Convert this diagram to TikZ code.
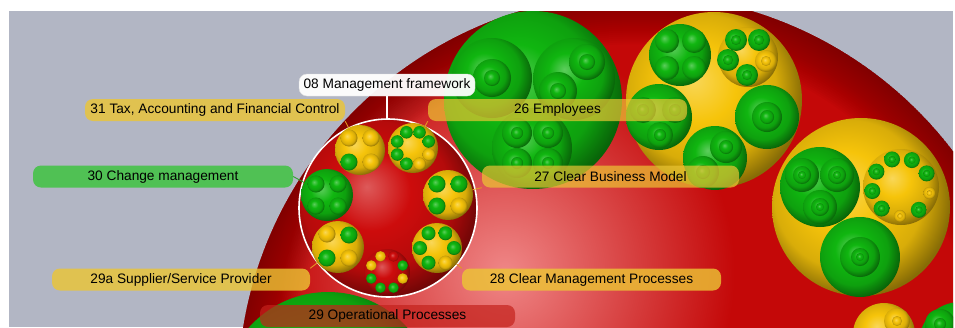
\documentclass[tikz,border=0pt]{standalone}
\usepackage{fontspec}
\setmainfont{Liberation Sans}
\usetikzlibrary{fadings}

\definecolor{bgGray}{RGB}{178,182,196}
\definecolor{ballGreen}{RGB}{16,182,16}
\definecolor{ballYellow}{RGB}{246,196,10}
\definecolor{ballRed}{RGB}{205,12,12}
\definecolor{redMid}{RGB}{196,8,8}
\definecolor{redDark}{RGB}{100,0,0}
\definecolor{redGlow}{RGB}{240,135,135}
\definecolor{lblYellow}{RGB}{236,198,52}
\definecolor{lblGreen}{RGB}{56,196,56}
\definecolor{lblRed}{RGB}{196,34,28}
\definecolor{lnkOrange}{RGB}{226,150,36}
\definecolor{lnkGreen}{RGB}{50,160,50}

\colorlet{sphcol}{ballGreen}
\pgfdeclareradialshading[sphcol]{sphere}{\pgfpoint{-6bp}{6bp}}{%
  color(0bp)=(sphcol!68!white); color(11bp)=(sphcol); color(21bp)=(sphcol!88!black);
  color(28bp)=(sphcol!55!black); color(50bp)=(sphcol!55!black)}
\tikzfading[name=glow, inner color=transparent!0, outer color=transparent!100]

\begin{document}
\begin{tikzpicture}[x=1pt,y=-1pt,
    orb/.style={shade, shading=sphere, /utils/exec={\colorlet{sphcol}{#1}}},
    cell/.style={orb=#1, circle, inner sep=0pt},
    tag/.style={rounded corners=8pt, minimum height=22pt, inner sep=0pt, text=black,
      font=\fontsize{13.7}{16}\selectfont, fill opacity=0.8, text opacity=1},
    link/.style={lnkOrange, line width=0.9pt}]
  \useasboundingbox (0,0) rectangle (955,327);
  \fill[bgGray] (9,11) rectangle (953,327);
  \clip (9,11) rectangle (953,327);

  % big red sphere
  \begin{scope}
    \clip (636,392) circle (398);
    \fill[redMid] (636,392) circle (398);
    \fill[redGlow, path fading=glow] (505,272) circle (230);
    \foreach \w in {4,8,...,100}
      \draw[redDark, line width=\w, opacity=0.035] (636,392) circle (398);
  \end{scope}

  % employees sphere
  \shade[orb=ballGreen] (533,100) circle (89);
  \foreach \r in {40,19,8} \shade[orb=ballGreen] (492,78) circle (\r);
  \shade[orb=ballGreen] (574,79) circle (41);
  \foreach \x/\y/\r in {587/62/18, 587/62/8, 558/91/19, 558/91/8}
    \shade[orb=ballGreen] (\x,\y) circle (\r);
  \shade[orb=ballGreen] (532,148) circle (40);
  \foreach \x/\y in {517/133, 548/133, 517/163, 548/163}
    \foreach \r in {15,6} \shade[orb=ballGreen] (\x,\y) circle (\r);

  % business model sphere
  \shade[orb=ballYellow] (714,100) circle (88);
  \shade[orb=ballGreen] (680,55) circle (31);
  \foreach \x/\y in {667/41, 694/41, 667/68, 694/68}
    \shade[orb=ballGreen] (\x,\y) circle (12);
  \shade[orb=ballYellow] (748,57) circle (30);
  \foreach \x/\y/\c in {736/40/ballGreen, 759/40/ballGreen, 728/60/ballGreen,
      766/61/ballYellow, 747/75/ballGreen}
    \foreach \r in {11,5} \shade[orb=\c] (\x,\y) circle (\r);
  \shade[orb=ballGreen] (659,117) circle (33);
  \foreach \x/\y in {643/110, 675/110, 660/135}
    \foreach \r in {13,6} \shade[orb=ballGreen] (\x,\y) circle (\r);
  \foreach \r in {32,15,7} \shade[orb=ballGreen] (767,117) circle (\r);
  \shade[orb=ballGreen] (715,158) circle (32);
  \foreach \x/\y in {726/147, 703/172}
    \foreach \r in {16,7} \shade[orb=ballGreen] (\x,\y) circle (\r);

  % processes sphere
  \shade[orb=ballYellow] (861,207) circle (89);
  \shade[orb=ballGreen] (820,187) circle (40);
  \foreach \x/\y in {802/175, 837/175, 820/207}
    \foreach \r in {17,9,4} \shade[orb=ballGreen] (\x,\y) circle (\r);
  \shade[orb=ballYellow] (901,187) circle (38);
  \foreach \a/\c/\s in {-108/ballGreen/8, -68/ballGreen/8, -28/ballGreen/8,
      12/ballYellow/6, 52/ballGreen/8, 92/ballYellow/6, 132/ballGreen/8,
      172/ballGreen/8, 212/ballGreen/8} {
    \shade[orb=\c] ([shift={(\a:29)}]901,187) circle (\s);
    \shade[orb=\c] ([shift={(\a:29)}]901,187) circle (\s*0.45);
  }
  \foreach \r in {40,20,9,4} \shade[orb=ballGreen] (860,257) circle (\r);

  % lower spheres
  \shade[orb=ballGreen] (328,398) circle (106);
  \shade[orb=ballYellow] (884,334) circle (31);
  \foreach \r in {13,5} \shade[orb=ballYellow] (897,321) circle (\r);
  \shade[orb=ballGreen] (960,343) circle (41);
  \foreach \r in {15,6} \shade[orb=ballGreen] (940,324) circle (\r);

  % management framework
  \node[cell=ballRed, minimum size=178, draw=white, line width=1.6pt] (frame) at (388,208) {};
  \node[cell=ballYellow, minimum size=50] (tax) at (360,150) {};
  \node[cell=ballYellow, minimum size=50] (staff) at (413,148) {};
  \node[cell=ballGreen, minimum size=52] (change) at (327,195) {};
  \node[cell=ballYellow, minimum size=50] (model) at (448,195) {};
  \node[cell=ballYellow, minimum size=52] (supply) at (338,247) {};
  \node[cell=ballYellow, minimum size=50] (mgmt) at (437,248) {};
  \node[cell=ballRed, minimum size=46] (ops) at (387,272) {};

  \foreach \dx/\dy/\c in {-11/-12/ballYellow, 11/-12/ballYellow, -11/12/ballGreen, 11/12/ballYellow}
    \shade[orb=\c] ([shift={(\dx,\dy)}]tax.center) circle (8.5);
  \foreach \dx/\dy in {-11/-11, 11/-11, -11/11, 11/11}
    \shade[orb=ballGreen] ([shift={(\dx,\dy)}]change.center) circle (8.5);
  \foreach \dx/\dy/\c in {-11/-11/ballGreen, 11/-11/ballGreen, -11/11/ballGreen, 11/11/ballYellow}
    \shade[orb=\c] ([shift={(\dx,\dy)}]model.center) circle (8.5);
  \foreach \dx/\dy/\c in {-11/-13/ballYellow, 11/-12/ballGreen, -11/11/ballGreen, 11/11/ballYellow}
    \shade[orb=\c] ([shift={(\dx,\dy)}]supply.center) circle (8.5);
  \foreach \a/\c in {-112.5/ballGreen, -67.5/ballGreen, -22.5/ballGreen, 22.5/ballYellow,
      67.5/ballYellow, 112.5/ballGreen, 157.5/ballGreen, 202.5/ballGreen}
    \shade[orb=\c] ([shift={(\a:17)}]staff.center) circle (6.3);
  \foreach \a/\c in {-120/ballGreen, -60/ballGreen, 0/ballGreen, 60/ballYellow,
      120/ballGreen, 180/ballGreen}
    \shade[orb=\c] ([shift={(\a:17)}]mgmt.center) circle (7);
  \foreach \a/\c in {-112.5/ballYellow, -67.5/ballRed, -22.5/ballGreen, 22.5/ballYellow,
      67.5/ballGreen, 112.5/ballGreen, 157.5/ballGreen, 202.5/ballYellow}
    \shade[orb=\c] ([shift={(\a:17)}]ops.center) circle (5.3);

  % labels
  \node[tag, fill=white, fill opacity=0.95, draw=black!12, minimum width=176] (lbl08) at (387,85) {08 Management framework};
  \node[tag, fill=lblYellow, minimum width=260] (lbl31) at (215,110) {31 Tax, Accounting and Financial Control};
  \node[tag, fill=lblYellow, fill opacity=0.7, minimum width=259] (lbl26) at (557.5,110) {26 Employees};
  \node[tag, fill=lblGreen, minimum width=260] (lbl30) at (163,176.5) {30 Change management};
  \node[tag, fill=lblYellow, fill opacity=0.7, minimum width=257] (lbl27) at (610.5,176.5) {27 Clear Business Model};
  \node[tag, fill=lblYellow, minimum width=258] (lbl29a) at (181,279.5) {29a Supplier/Service Provider};
  \node[tag, fill=lblYellow, minimum width=259] (lbl28) at (591.5,279.5) {28 Clear Management Processes};
  \node[tag, fill=lblRed, fill opacity=0.7, minimum width=255] (lbl29) at (387.5,316) {29 Operational Processes};

  % connectors
  \draw[white, line width=1.2pt] (lbl08.south) -- (lbl08.south |- frame.north);
  \draw[link] (lbl31.south east) -- (tax);
  \draw[link] (lbl26.south west) -- (staff);
  \draw[link, lnkGreen] (lbl30.east) -- (change);
  \draw[link] (lbl27.south west) -- (model);
  \draw[link] (lbl29a.north east) -- (supply);
  \draw[link] (lbl28.north west) -- (mgmt);
\end{tikzpicture}
\end{document}
